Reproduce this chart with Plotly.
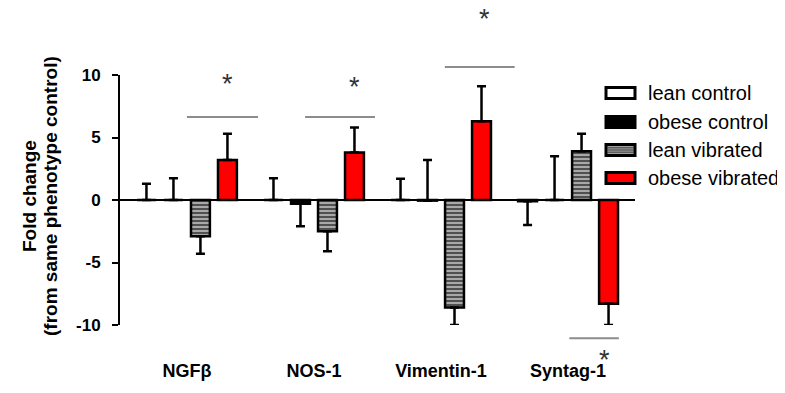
import plotly.graph_objects as go

categories = ["NGFβ", "NOS-1", "Vimentin-1", "Syntag-1"]
series_names = ["lean control", "obese control", "lean vibrated", "obese vibrated"]

lean_control = [0.0, 0.0, 0.0, -0.1]
lean_control_err_up = [1.3, 1.75, 1.7, 0.0]
lean_control_err_down = [0.0, 0.0, 0.0, 1.9]

obese_control = [0.0, -0.3, -0.05, 0.0]
obese_control_err_up = [1.75, 0.0, 3.25, 3.5]
obese_control_err_down = [0.0, 1.8, 0.0, 0.0]

lean_vibrated = [-2.9, -2.5, -8.6, 3.9]
lean_vibrated_err_up = [0.0, 0.0, 0.0, 1.4]
lean_vibrated_err_down = [1.4, 1.6, 1.4, 0.0]

obese_vibrated = [3.2, 3.8, 6.3, -8.3]
obese_vibrated_err_up = [2.1, 2.0, 2.8, 0.0]
obese_vibrated_err_down = [0.0, 0.0, 0.0, 1.7]

# significance brackets (x in category units, y in data units)
sig_x0 = [0.0, 0.93, 2.03, 3.01]
sig_x1 = [0.56, 1.48, 2.58, 3.40]
sig_y = [6.65, 6.65, 10.65, -11.05]
star_x = [0.32, 1.32, 2.34, 3.29]
star_y = [9.25, 9.05, 14.5, -12.8]

y_ticks = [-10, -5, 0, 5, 10]

# page body has an 8px margin; compensate so the plot lands where the reference has it
OFF = 8
XR = [-0.527, 3.527]
YR = [-10, 10]
W, H = 785, 393
L = 120 - OFF
T = 75 - OFF
PW, PH = 515, 250
R = W - L - PW
B = H - T - PH


def px_x(v):
    return (v - XR[0]) / (XR[1] - XR[0])


def px_y(v):
    return (v - YR[0]) / (YR[1] - YR[0])


def scr_x(px):  # screen pixel -> paper
    return (px - OFF - L) / PW


def scr_y(py):
    return (T + PH - (py - OFF)) / PH


FONT = "Arial, Liberation Sans, sans-serif"

styles = [
    dict(color="white", pattern=None),
    dict(color="black", pattern=None),
    dict(color="#9a9a9a", pattern=dict(shape="-", bgcolor="#a8a8a8", fgcolor="#2a2a2a",
                                       size=4, solidity=0.35, fillmode="replace")),
    dict(color="#ff0000", pattern=None),
]
vals = [lean_control, obese_control, lean_vibrated, obese_vibrated]
ups = [lean_control_err_up, obese_control_err_up, lean_vibrated_err_up, obese_vibrated_err_up]
downs = [lean_control_err_down, obese_control_err_down, lean_vibrated_err_down, obese_vibrated_err_down]

fig = go.Figure()
for name, v, up, dn, st in zip(series_names, vals, ups, downs, styles):
    marker = dict(color=st["color"], line=dict(color="black", width=2.5))
    if st["pattern"]:
        marker["pattern"] = st["pattern"]
    fig.add_trace(go.Bar(
        x=categories, y=v, name=name, marker=marker, showlegend=False,
        error_y=dict(type="data", symmetric=False, array=up, arrayminus=dn,
                     color="black", thickness=2.5, width=4.5),
    ))

shapes = []
annotations = []
for x0, x1, y, sx, sy in zip(sig_x0, sig_x1, sig_y, star_x, star_y):
    shapes.append(dict(type="line", xref="paper", yref="paper",
                       x0=px_x(x0), x1=px_x(x1), y0=px_y(y), y1=px_y(y),
                       line=dict(color="#8c8c8c", width=2)))
    annotations.append(dict(text="*", xref="paper", yref="paper", x=px_x(sx), y=px_y(sy),
                            showarrow=False, xanchor="center", yanchor="middle",
                            font=dict(family=FONT, size=27, color="#333")))

# manual legend
leg_fill = ["white", "black", "#a0a0a0", "#ff0000"]
leg_y_px = [93, 122, 150, 178]
bx0, bx1 = 606, 635
for name, fill, cy in zip(series_names, leg_fill, leg_y_px):
    shapes.append(dict(type="rect", xref="paper", yref="paper",
                       x0=scr_x(bx0), x1=scr_x(bx1), y0=scr_y(cy + 5.5), y1=scr_y(cy - 5.5),
                       fillcolor=fill, line=dict(color="black", width=3)))
    if fill == "#a0a0a0":
        for dy in (-2.2, 0, 2.2):
            shapes.append(dict(type="line", xref="paper", yref="paper",
                               x0=scr_x(bx0 + 1), x1=scr_x(bx1 - 1),
                               y0=scr_y(cy + dy), y1=scr_y(cy + dy),
                               line=dict(color="#404040", width=1)))
    annotations.append(dict(text=name, xref="paper", yref="paper",
                            x=scr_x(646), y=scr_y(cy),
                            xanchor="left", yanchor="middle", showarrow=False,
                            font=dict(family=FONT, size=20, color="black")))

for txt, cx in (("Fold change", 29), ("(from same phenotype control)", 50)):
    annotations.append(dict(text="<b>" + txt + "</b>", xref="paper", yref="paper",
                            x=scr_x(cx), y=scr_y(196),
                            textangle=-90, showarrow=False, xanchor="center", yanchor="middle",
                            font=dict(family=FONT, size=19, color="black")))

fig.update_layout(
    width=W, height=H,
    margin=dict(l=L, r=R, t=T, b=B),
    paper_bgcolor="white", plot_bgcolor="white",
    barmode="group", bargap=0.15, bargroupgap=0.3,
    shapes=shapes, annotations=annotations,
    font=dict(family=FONT, color="black"),
    xaxis=dict(range=XR, showline=False, showgrid=False, zeroline=False, ticks="",
               tickfont=dict(family=FONT, size=18, color="black", weight="bold"),
               ticklabelstandoff=33, fixedrange=True),
    yaxis=dict(range=YR, tickvals=y_ticks, ticktext=[str(t) for t in y_ticks],
               showline=True, linecolor="black", linewidth=2,
               ticks="outside", ticklen=6, tickwidth=2, tickcolor="black",
               showgrid=False, zeroline=True, zerolinecolor="black", zerolinewidth=2,
               tickfont=dict(family=FONT, size=17, color="black", weight="bold"),
               ticklabelstandoff=8),
)

fig.write_html("out.html")
